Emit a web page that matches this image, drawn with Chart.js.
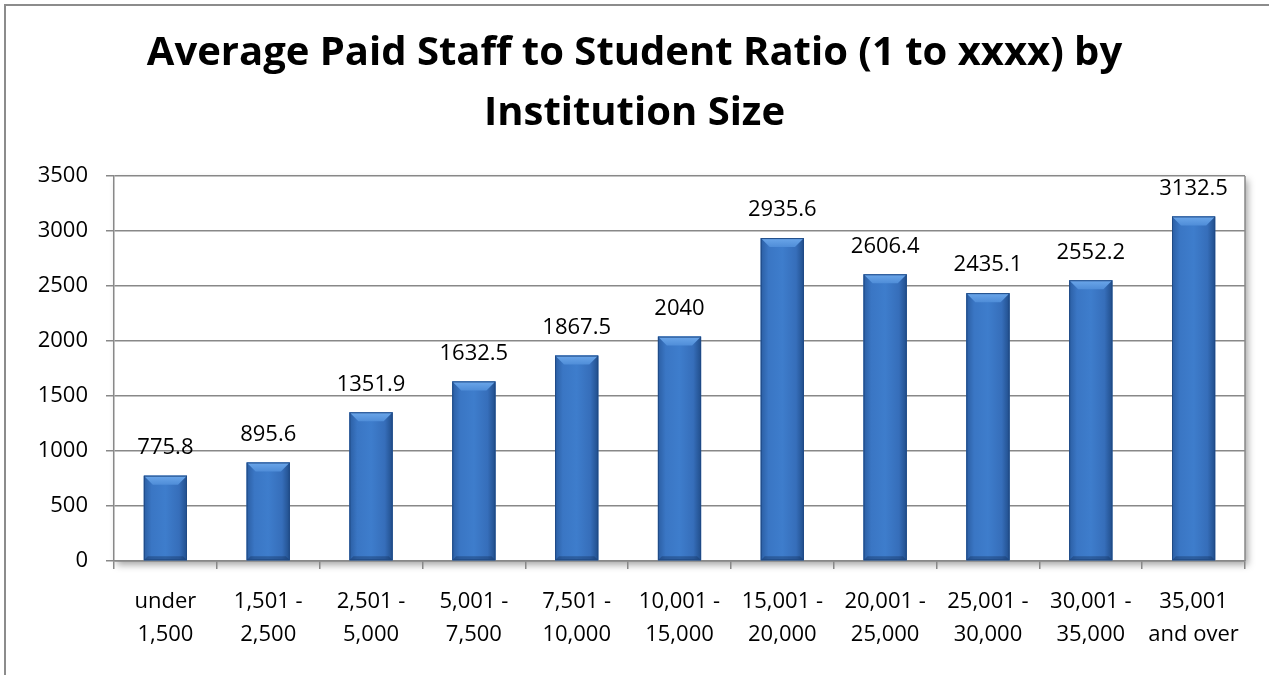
<!DOCTYPE html>
<html>
<head>
<meta charset="utf-8">
<script src="https://cdn.jsdelivr.net/npm/chart.js@4.4.0/dist/chart.umd.min.js"></script>
<style>
    html, body { margin: 0; padding: 0; background: #fff; overflow: hidden; }
    #frame {
        position: absolute; left: 4px; top: 4px; width: 1400px; height: 800px;
        border-left: 2px solid #8c8c8c; border-top: 2px solid #8c8c8c;
    }
    #wrap { position: absolute; left: 0; top: 0; width: 1269px; height: 675px; }
</style>
</head>
<body>
<div id="frame"></div>
<div id="wrap"><canvas id="ratioChart"></canvas></div>
<script>
// Chart data
const titleLines = ['Average Paid Staff to Student Ratio (1 to xxxx) by', 'Institution Size'];
const sizeLabels = [
    ['under', '1,500'], ['1,501 -', '2,500'], ['2,501 -', '5,000'], ['5,001 -', '7,500'],
    ['7,501 -', '10,000'], ['10,001 -', '15,000'], ['15,001 -', '20,000'], ['20,001 -', '25,000'],
    ['25,001 -', '30,000'], ['30,001 -', '35,000'], ['35,001', 'and over']
];
const ratioValues = [775.8, 895.6, 1351.9, 1632.5, 1867.5, 2040, 2935.6, 2606.4, 2435.1, 2552.2, 3132.5];
const ratioTextLabels = ['775.8', '895.6', '1351.9', '1632.5', '1867.5', '2040', '2935.6', '2606.4', '2435.1', '2552.2', '3132.5'];
const yMin = 0, yMax = 3500, yStep = 500;

const gridGray = '#888888';
const fontFamily = "'Open Sans', 'Noto Sans', sans-serif";

// White plot area with a soft drop shadow, plus the right border line
const plotAreaPlugin = {
    id: 'plotArea',
    beforeDraw(chart) {
        const { ctx, chartArea: a } = chart;
        ctx.save();
        ctx.shadowColor = 'rgba(0,0,0,0.35)';
        ctx.shadowBlur = 7;
        ctx.shadowOffsetX = 3;
        ctx.shadowOffsetY = 4;
        ctx.fillStyle = '#fff';
        ctx.fillRect(a.left, a.top, a.right - a.left, a.bottom - a.top);
        ctx.restore();
    },
    afterDraw(chart) {
        const { ctx, chartArea: a } = chart;
        ctx.save();
        ctx.strokeStyle = gridGray;
        ctx.lineWidth = 1.5;
        ctx.beginPath();
        ctx.moveTo(a.right, a.top);
        ctx.lineTo(a.right, a.bottom);
        ctx.stroke();
        ctx.restore();
    }
};

// Bevel shading on each bar, in the Excel style
const bevelPlugin = {
    id: 'bevel',
    afterDatasetsDraw(chart) {
        const ctx = chart.ctx;
        chart.getDatasetMeta(0).data.forEach(bar => {
            const w = bar.width;
            const x0 = bar.x - w / 2, x1 = bar.x + w / 2;
            const y0 = bar.y, y1 = bar.base;
            const b = 9;
            ctx.save();
            const g = ctx.createLinearGradient(x0, 0, x1, 0);
            g.addColorStop(0, '#2b5ea3');
            g.addColorStop(0.18, '#3a76c4');
            g.addColorStop(0.5, '#3e7dcc');
            g.addColorStop(0.82, '#366eba');
            g.addColorStop(1, '#214e8b');
            ctx.fillStyle = g;
            ctx.fillRect(x0, y0, w, y1 - y0);
            // top face
            const tg = ctx.createLinearGradient(0, y0, 0, y0 + b);
            tg.addColorStop(0, '#6ca7ea');
            tg.addColorStop(1, '#4f8dd8');
            ctx.fillStyle = tg;
            ctx.beginPath();
            ctx.moveTo(x0, y0); ctx.lineTo(x1, y0);
            ctx.lineTo(x1 - b, y0 + b); ctx.lineTo(x0 + b, y0 + b);
            ctx.closePath(); ctx.fill();
            // bottom face
            ctx.fillStyle = 'rgba(20,50,95,0.4)';
            ctx.beginPath();
            ctx.moveTo(x0, y1); ctx.lineTo(x1, y1);
            ctx.lineTo(x1 - 4, y1 - 4); ctx.lineTo(x0 + 4, y1 - 4);
            ctx.closePath(); ctx.fill();
            // outline
            ctx.strokeStyle = '#1f4a85';
            ctx.lineWidth = 1;
            ctx.strokeRect(x0 + 0.5, y0 + 0.5, w - 1, y1 - y0 - 1);
            ctx.restore();
        });
    }
};

// Value labels above each bar
const valueLabelPlugin = {
    id: 'valueLabels',
    afterDatasetsDraw(chart) {
        const ctx = chart.ctx;
        ctx.save();
        ctx.font = `22px ${fontFamily}`;
        ctx.fillStyle = '#000';
        ctx.textAlign = 'center';
        ctx.textBaseline = 'middle';
        chart.getDatasetMeta(0).data.forEach((bar, i) => {
            ctx.fillText(ratioTextLabels[i], bar.x, bar.y - 28);
        });
        ctx.restore();
    }
};

const ctx = document.getElementById('ratioChart');
new Chart(ctx.getContext('2d'), {
    type: 'bar',
    data: {
        labels: sizeLabels,
        datasets: [{
            label: 'Ratio',
            data: ratioValues,
            backgroundColor: '#3a76c4',
            borderWidth: 0,
            barPercentage: 0.42,
            categoryPercentage: 1
        }]
    },
    options: {
        responsive: true,
        maintainAspectRatio: false,
        animation: false,
        layout: { padding: 0 },
        plugins: {
            legend: { display: false },
            tooltip: { enabled: false },
            title: {
                display: true,
                text: titleLines,
                color: '#000',
                font: { family: fontFamily, size: 40, weight: 'bold', lineHeight: 1.5 },
                padding: { top: 24, bottom: 32 }
            }
        },
        scales: {
            x: {
                afterFit: scale => { scale.height = 114; },
                grid: {
                    drawOnChartArea: false,
                    drawTicks: true,
                    tickLength: 8,
                    color: gridGray,
                    lineWidth: 1.5
                },
                border: { color: gridGray, width: 1.5 },
                ticks: {
                    color: '#000',
                    padding: 16,
                    maxRotation: 0,
                    autoSkip: false,
                    font: { family: fontFamily, size: 22, lineHeight: 1.5 }
                }
            },
            y: {
                min: yMin,
                max: yMax,
                afterFit: scale => { scale.width = 114; },
                grid: {
                    drawTicks: true,
                    tickLength: 8,
                    color: gridGray,
                    lineWidth: 1.5
                },
                border: { color: gridGray, width: 1.5 },
                ticks: {
                    stepSize: yStep,
                    color: '#000',
                    padding: 18,
                    font: { family: fontFamily, size: 22 },
                    callback: value => String(value)
                }
            },
            // empty right-hand margin so the title stays centred on the whole frame
            yRight: {
                position: 'right',
                display: true,
                afterFit: scale => { scale.width = 24; },
                grid: { display: false, drawTicks: false },
                border: { display: false },
                ticks: { display: false }
            }
        }
    },
    plugins: [plotAreaPlugin, bevelPlugin, valueLabelPlugin]
});
</script>
</body>
</html>
